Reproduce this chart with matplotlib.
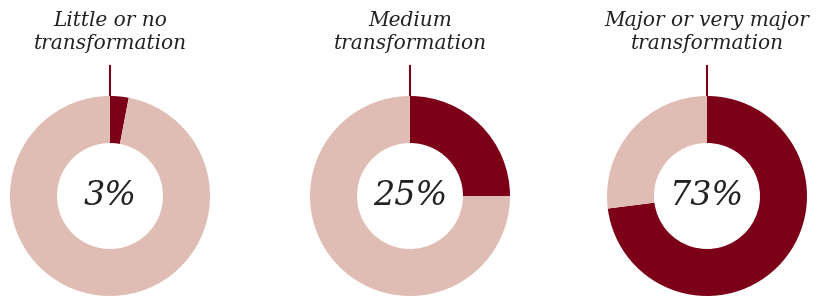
import numpy as np
import matplotlib
matplotlib.use("Agg")
import matplotlib.pyplot as plt

# data
labels = ["Little or no\ntransformation", "Medium\ntransformation", "Major or very major\ntransformation"]
shares = [3, 25, 73]

dark = "#7d0019"
light = "#e0bdb4"
text_color = "#222222"

W, H = 822, 297
fig = plt.figure(figsize=(W / 100, H / 100), dpi=100)
ax = fig.add_axes([0, 0, 1, 1])

centers_x = [110, 410, 707]
cy = H - 196
R = 100
ring = 47

for cx, lab, val in zip(centers_x, labels, shares):
    ax.pie([val, 100 - val], colors=[dark, light], center=(cx, cy), radius=R,
           startangle=90, counterclock=False,
           wedgeprops=dict(width=ring, linewidth=0))
    # leader line from the top of the ring
    ax.plot([cx, cx], [cy + R, cy + R + 31], color=dark, lw=1.5, solid_capstyle="butt")
    ax.text(cx, H - 32, lab, ha="center", va="center", fontsize=14.5, style="italic",
            family="DejaVu Serif", color=text_color, linespacing=1.3)
    ax.text(cx, cy, f"{val}%", ha="center", va="center", fontsize=24, style="italic",
            family="DejaVu Serif", color=text_color)

ax.set_xlim(0, W)
ax.set_ylim(0, H)
ax.set_aspect("equal")
ax.axis("off")

fig.savefig("out.png", dpi=100)
